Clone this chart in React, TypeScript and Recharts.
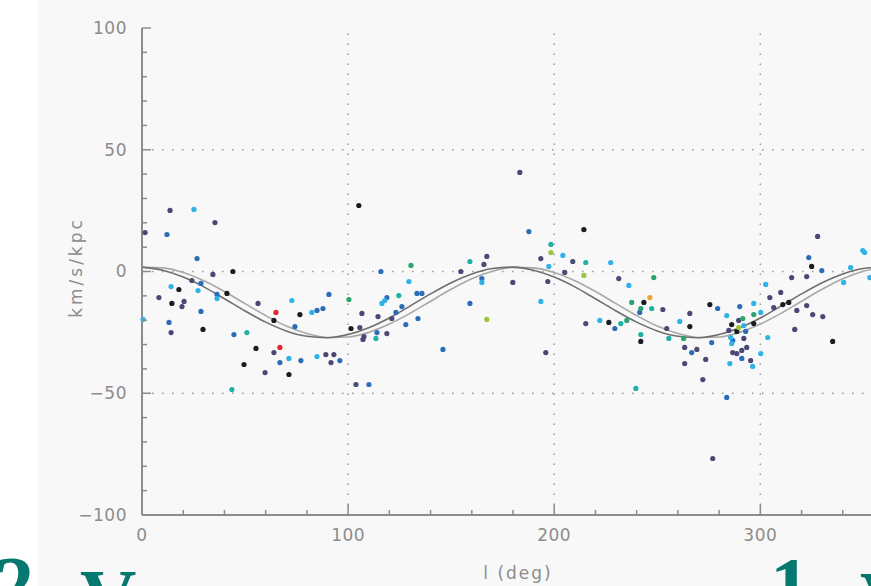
import React from 'react';
import { ComposedChart, Scatter, Line, XAxis, YAxis, ReferenceLine, Label } from 'recharts';

// axis ticks (minor every 20 deg / 10 km/s/kpc, labels on majors)
const xTicks = [0, 20, 40, 60, 80, 100, 120, 140, 160, 180, 200, 220, 240, 260, 280, 300, 320, 340, 360];
const yTicks = [-100, -90, -80, -70, -60, -50, -40, -30, -20, -10, 0, 10, 20, 30, 40, 50, 60, 70, 80, 90, 100];
const xGrid = [100, 200, 300];
const yGrid = [-50, 0, 50];

// model curves
const curveL = [0, 10, 20, 30, 40, 50, 60, 70, 80, 90, 100, 110, 120, 130, 140, 150, 160, 170, 180,
  190, 200, 210, 220, 230, 240, 250, 260, 270, 280, 290, 300, 310, 320, 330, 340, 350, 360];
const curveDark = [1.8, 0.5, -2.3, -6.3, -11.2, -16.2, -20.8, -24.4, -26.6, -27.2, -25.9, -23.1, -19.1, -14.2, -9.2, -4.6, -1.0, 1.2, 1.8,
  0.5, -2.3, -6.3, -11.2, -16.2, -20.8, -24.4, -26.6, -27.2, -25.9, -23.1, -19.1, -14.2, -9.2, -4.6, -1.0, 1.2, 1.8];
const curveLight = [1.7, 1.5, -0.4, -3.8, -8.2, -13.2, -18.1, -22.4, -25.5, -27.1, -26.9, -25.0, -21.6, -17.2, -12.2, -7.3, -3.0, 0.1, 1.7,
  1.5, -0.4, -3.8, -8.2, -13.2, -18.1, -22.4, -25.5, -27.1, -26.9, -25.0, -21.6, -17.2, -12.2, -7.3, -3.0, 0.1, 1.7];

// stars [l, value], grouped by colour
const blackPts = [[17.9, -7.4], [14.5, -13.1], [29.6, -23.8], [41.2, -9.0], [44.1, 0], [55.3, -31.6], [49.5, -38.2], [71.3, -42.3],
  [64.0, -20.1], [76.6, -17.7], [101.4, -23.4], [105.2, 27.1], [214.4, 17.2], [226.5, -20.9], [243.5, -12.7], [242.0, -28.7],
  [324.9, 2.1], [310.9, -13.6], [313.8, -12.7], [335.1, -28.7], [296.8, -21.4], [286.1, -21.8], [275.5, -13.6], [265.8, -22.6], [288.6, -24.6]];
const purplePts = [[1.5, 16.0], [13.6, 25.1], [35.4, 20.1], [34.4, -1.2], [24.2, -3.7], [8.2, -10.7], [20.4, -12.3], [19.4, -14.4],
  [56.3, -13.1], [14.1, -25.1], [59.7, -41.5], [64.0, -33.3], [89.2, -34.1], [93.1, -34.1], [91.7, -37.4], [105.7, -23.0],
  [106.7, -17.2], [107.7, -26.7], [107.2, -27.9], [103.8, -46.4], [114.5, -18.5], [121.2, -19.3], [118.8, -25.5],
  [183.3, 40.7], [193.5, 5.3], [209.0, 4.1], [205.1, -0.4], [196.9, -4.1], [195.9, -33.3], [215.3, -21.4], [231.3, -2.9],
  [252.7, -15.6], [254.6, -23.4], [167.3, 6.2], [165.9, 2.9], [154.7, 0], [179.9, -4.5],
  [327.8, 14.4], [315.2, -2.5], [322.5, -2.1], [304.6, -10.7], [309.9, -8.6], [306.5, -14.8], [317.7, -16.0], [322.5, -14.0],
  [325.4, -17.7], [330.3, -18.5], [316.7, -23.8], [295.3, -36.6], [293.4, -31.2], [289.5, -20.1], [284.7, -24.2], [292.0, -27.5],
  [291.0, -32.4], [288.6, -33.7], [286.6, -33.3], [265.8, -17.2], [269.2, -32.0], [263.3, -31.2], [263.3, -37.8], [273.5, -36.1],
  [272.1, -44.4], [276.9, -76.8]];
const bluePts = [[12.1, 15.2], [26.7, 5.3], [28.6, -4.9], [36.4, -9.4], [28.6, -16.4], [13.1, -20.9], [44.6, -25.9], [66.9, -37.4],
  [77.1, -36.6], [74.2, -22.6], [84.9, -16.0], [87.8, -15.2], [90.7, -9.4], [96.0, -36.6], [110.1, -46.4], [114.0, -25.1],
  [115.9, 0], [118.8, -10.7], [123.2, -16.8], [126.1, -14.4], [128.0, -21.8], [133.4, -9.0], [135.8, -9.0], [133.9, -19.3],
  [187.7, 16.4], [229.4, -23.4], [241.5, -16.8], [146.0, -32.0], [159.1, -13.1], [164.9, -2.9],
  [323.5, 5.7], [329.8, 0.4], [290.0, -14.4], [292.9, -24.6], [286.6, -28.3], [291.0, -35.7], [279.3, -15.2], [266.7, -33.3],
  [276.4, -29.2], [283.7, -51.7]];
const lightBluePts = [[25.2, 25.5], [14.1, -6.2], [27.2, -7.8], [36.4, -11.1], [0.5, -19.7], [71.3, -35.7], [72.7, -11.9], [82.4, -16.8],
  [84.9, -34.9], [116.4, -13.1], [117.8, -11.9], [129.5, -4.1],
  [197.4, 2.1], [204.2, 6.6], [227.4, 3.7], [193.5, -12.3], [222.1, -20.1], [236.2, -5.7], [260.9, -20.5], [164.9, -4.5],
  [343.8, 1.6], [340.4, -4.5], [349.7, 8.6], [350.6, 7.8], [353.1, -2.5], [302.6, -5.3], [303.6, -27.1], [300.2, -16.8],
  [296.8, -13.1], [300.2, -33.7], [296.3, -39.0], [292.0, -22.2], [283.7, -18.1], [285.6, -27.1], [286.1, -29.6], [285.2, -37.8]];
const tealPts = [[50.9, -25.1], [113.5, -27.5], [124.6, -9.9], [43.6, -48.5], [198.4, 11.1], [215.3, 3.7], [232.3, -21.4],
  [247.3, -15.2], [242.0, -25.9], [255.6, -27.5], [239.6, -48.0], [159.1, 4.1]];
const greenPts = [[100.4, -11.5], [130.5, 2.5], [235.2, -20.1], [237.6, -12.7], [242.0, -15.2], [248.3, -2.5], [296.8, -17.7],
  [291.5, -19.3], [262.8, -27.5]];
const yellowPts = [[198.4, 7.8], [214.4, -1.6], [167.3, -19.7], [289.5, -23.0]];
const orangePts = [[246.4, -10.7]];
const redPts = [[66.9, -31.2], [65.0, -16.8]];

const AXIS = '#8c8c8c';
const TEAL = '#05786f';
const FONT = '"DejaVu Sans", sans-serif';

const toData = (pts: number[][]) => pts.map(([l, v]) => ({ l, v }));
const darkData = curveL.map((l, i) => ({ l, v: curveDark[i] }));
const lightData = curveL.map((l, i) => ({ l, v: curveLight[i] }));

const groups = [
  { name: 'black', color: '#1b1b22', pts: blackPts },
  { name: 'purple', color: '#4a4874', pts: purplePts },
  { name: 'blue', color: '#2b6cb8', pts: bluePts },
  { name: 'lightblue', color: '#2fb2e6', pts: lightBluePts },
  { name: 'teal', color: '#1fb0a6', pts: tealPts },
  { name: 'green', color: '#2aa46c', pts: greenPts },
  { name: 'yellow', color: '#9cc43c', pts: yellowPts },
  { name: 'orange', color: '#f2a232', pts: orangePts },
  { name: 'red', color: '#e2242c', pts: redPts },
];

const fmt = (v: number) => (v < 0 ? `\u2212${Math.abs(v)}` : `${v}`);

const BottomTick = (props: any) => {
  const { x, y, payload } = props;
  const major = payload.value % 100 === 0;
  return (
    <g>
      <line x1={x} y1={y} x2={x} y2={y - (major ? 11 : 5)} stroke={AXIS} strokeWidth={1.5} />
      {major && payload.value < 360 && (
        <text x={x} y={y + 20} dy="0.35em" textAnchor="middle" fill={AXIS} fontSize={17} fontFamily={FONT} letterSpacing={0.5}>
          {payload.value}
        </text>
      )}
    </g>
  );
};

const TopTick = (props: any) => {
  const { x, y, payload } = props;
  const major = payload.value % 100 === 0;
  return <line x1={x} y1={y} x2={x} y2={y + (major ? 11 : 5)} stroke={AXIS} strokeWidth={1.5} />;
};

const LeftTick = (props: any) => {
  const { x, y, payload } = props;
  const major = payload.value % 50 === 0;
  return (
    <g>
      <line x1={x} y1={y} x2={x + (major ? 9 : 5)} y2={y} stroke={AXIS} strokeWidth={1.5} />
      {major && (
        <text x={x - 15} y={y} dy="0.35em" textAnchor="end" fill={AXIS} fontSize={17} fontFamily={FONT} letterSpacing={0.5}>
          {fmt(payload.value)}
        </text>
      )}
    </g>
  );
};

const dot = (color: string) => (p: any) => <circle cx={p.cx} cy={p.cy} r={2.6} fill={color} />;

export default function App() {
  return (
    <div style={{ position: 'fixed', left: 0, top: 0, width: 871, height: 586, overflow: 'hidden', background: '#ffffff' }}>
      <div style={{ position: 'absolute', left: 38, top: 0, width: 833, height: 586, background: '#f8f8f8' }} />
      <div style={{ position: 'absolute', left: 0, top: 0 }}>
        <ComposedChart width={900} height={586} margin={{ top: 28, right: 16, bottom: 5, left: 0 }}>
          <XAxis
            xAxisId="top"
            orientation="top"
            type="number"
            dataKey="l"
            domain={[0, 360]}
            ticks={xTicks}
            interval={0}
            height={0}
            tickSize={0}
            tickMargin={0}
            tick={<TopTick />}
            axisLine={{ stroke: AXIS, strokeWidth: 2 }}
          />
          <XAxis
            type="number"
            dataKey="l"
            domain={[0, 360]}
            ticks={xTicks}
            interval={0}
            height={66}
            tickSize={0}
            tickMargin={0}
            tick={<BottomTick />}
            axisLine={{ stroke: AXIS, strokeWidth: 2 }}
          >
            <Label value="l (deg)" position="insideBottom" offset={2} dx={5} fill={AXIS} fontSize={17} fontFamily={FONT} letterSpacing={2} />
          </XAxis>
          <YAxis
            type="number"
            dataKey="v"
            domain={[-100, 100]}
            ticks={yTicks}
            interval={0}
            width={142}
            tickSize={0}
            tickMargin={0}
            tick={<LeftTick />}
            axisLine={{ stroke: AXIS, strokeWidth: 2 }}
          >
            <Label value="km/s/kpc" angle={-90} position="center" dx={5} dy={-4} fill={AXIS} fontSize={17} fontFamily={FONT} letterSpacing={3} />
          </YAxis>
          {xGrid.map((g) => (
            <ReferenceLine key={`x${g}`} x={g} stroke="#9a9a9a" strokeWidth={1.5} strokeDasharray="1.5 8.5" />
          ))}
          {yGrid.map((g) => (
            <ReferenceLine key={`y${g}`} y={g} stroke="#9a9a9a" strokeWidth={1.5} strokeDasharray="1.5 8.5" />
          ))}
          <Line data={lightData} dataKey="v" type="monotone" stroke="#a8a8a8" strokeWidth={1.6} dot={false} isAnimationActive={false} />
          <Line data={darkData} dataKey="v" type="monotone" stroke="#6e6e6e" strokeWidth={1.6} dot={false} isAnimationActive={false} />
          {groups.map((g) => (
            <Scatter key={g.name} name={g.name} data={toData(g.pts)} dataKey="v" shape={dot(g.color)} isAnimationActive={false} />
          ))}
        </ComposedChart>
      </div>
      <svg width={871} height={586} style={{ position: 'absolute', left: 0, top: 0 }}>
        <g fill={TEAL} fontFamily='"Liberation Serif", serif' fontWeight="bold">
          <text x={-6} y={612} fontSize={80}>2</text>
          <text x={80} y={623} fontSize={78}>V</text>
          <text x={770} y={613} fontSize={80}>1</text>
          <text x={860} y={625} fontSize={78}>V</text>
        </g>
      </svg>
    </div>
  );
}
